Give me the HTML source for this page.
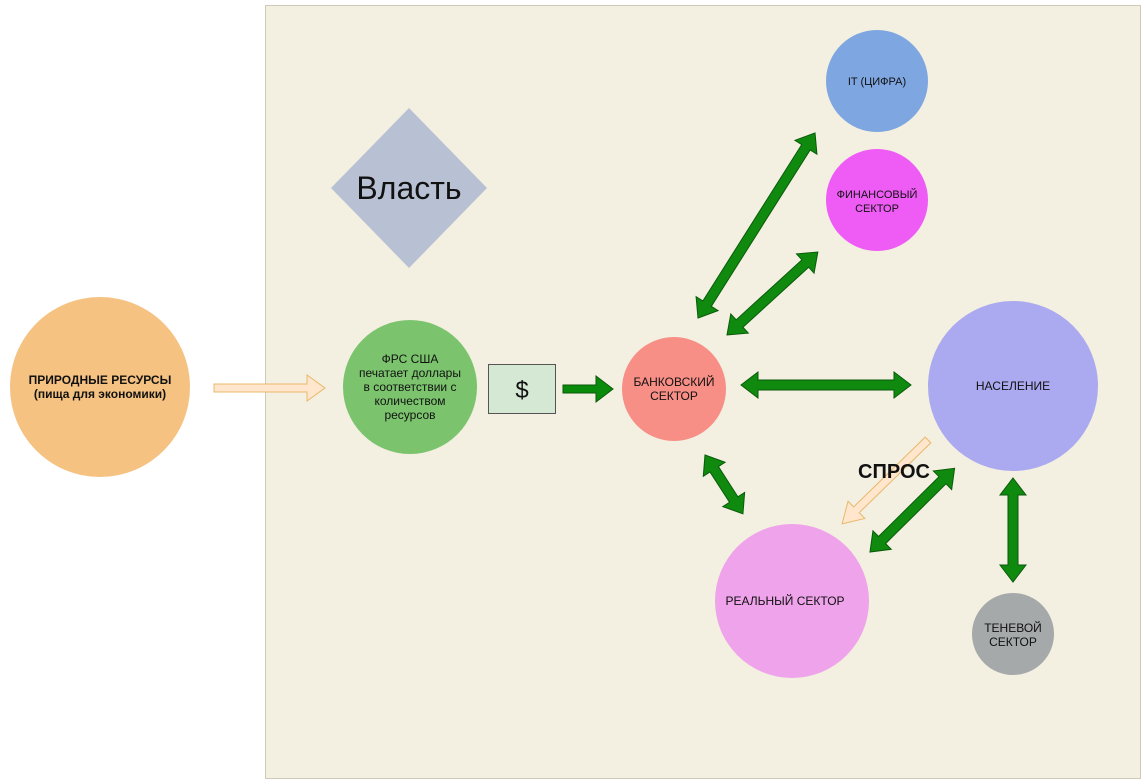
<!DOCTYPE html>
<html><head><meta charset="utf-8"><style>
body{margin:0;background:#fff;}
svg{display:block;font-family:"Liberation Sans",sans-serif;}
</style></head><body>
<svg width="1144" height="782" viewBox="0 0 1144 782">
<rect x="265.5" y="5.5" width="875" height="773" fill="#f3efe1" stroke="#cfcab8"/>
<!-- diamond -->
<polygon points="409,108 487,188 409,268 331,188" fill="#b8c1d3"/>
<text x="409" y="199" font-size="32" text-anchor="middle" fill="#111">Власть</text>
<!-- circles -->
<circle cx="100" cy="387" r="90" fill="#f5c282"/>
<text font-size="12" font-weight="bold" text-anchor="middle" fill="#111"><tspan x="100" y="384">ПРИРОДНЫЕ РЕСУРСЫ</tspan><tspan x="100" y="398">(пища для экономики)</tspan></text>
<circle cx="410" cy="387" r="67" fill="#7bc46d"/>
<text font-size="12" text-anchor="middle" fill="#111"><tspan x="410" y="363">ФРС США</tspan><tspan x="410" y="377">печатает доллары</tspan><tspan x="410" y="391">в соответствии с</tspan><tspan x="410" y="405">количеством</tspan><tspan x="410" y="419">ресурсов</tspan></text>
<rect x="488.5" y="364.5" width="67" height="49" fill="#d5e8d4" stroke="#555"/>
<text x="522" y="398" font-size="24" text-anchor="middle" fill="#111">$</text>
<circle cx="674" cy="389" r="52" fill="#f88f86"/>
<text font-size="12" text-anchor="middle" fill="#111"><tspan x="674" y="386">БАНКОВСКИЙ</tspan><tspan x="674" y="400">СЕКТОР</tspan></text>
<circle cx="877" cy="81" r="51" fill="#7ea6e0"/>
<text x="877" y="85" font-size="11" text-anchor="middle" fill="#111">IT (ЦИФРА)</text>
<circle cx="877" cy="200" r="51" fill="#ee5cf5"/>
<text font-size="11" text-anchor="middle" fill="#111"><tspan x="877" y="198">ФИНАНСОВЫЙ</tspan><tspan x="877" y="212">СЕКТОР</tspan></text>
<circle cx="1013" cy="386" r="85" fill="#aba9ef"/>
<text x="1013" y="390" font-size="12" text-anchor="middle" fill="#111">НАСЕЛЕНИЕ</text>
<circle cx="792" cy="601" r="77" fill="#eea3ea"/>
<text x="785" y="605" font-size="12" text-anchor="middle" fill="#111">РЕАЛЬНЫЙ СЕКТОР</text>
<circle cx="1013" cy="634" r="41" fill="#a5a9aa"/>
<text font-size="12" text-anchor="middle" fill="#111"><tspan x="1013" y="632">ТЕНЕВОЙ</tspan><tspan x="1013" y="646">СЕКТОР</tspan></text>
<!-- peach arrows -->
<polygon points="214,384 307,384 307,375 325,388 307,401 307,392 214,392" fill="#ffe6cc" stroke="#e8b86a"/>
<g transform="translate(928,440) rotate(135.7)">
<polygon points="0,-4 100,-4 100,-12 120,0 100,12 100,4 0,4" fill="#ffe6cc" stroke="#e8b86a"/>
</g>
<text x="894" y="478" font-size="20" font-weight="bold" text-anchor="middle" fill="#111">СПРОС</text>
<!-- green single -->
<polygon points="563,385 596,385 596,376 613,389 596,402 596,393 563,393" fill="#0a8a0a" stroke="#0a5a0a"/>
<!-- double arrows -->
<g fill="#0f8a0f" stroke="#0a5a0a" stroke-width="1">
<g transform="translate(698,318) rotate(-57.7)"><polygon points="0,0 17,-13 17,-5 202,-5 202,-13 219,0 202,13 202,5 17,5 17,13"/></g>
<g transform="translate(727,335) rotate(-42.4)"><polygon points="0,0 17,-13 17,-5 106,-5 106,-13 123,0 106,13 106,5 17,5 17,13"/></g>
<g transform="translate(741,385)"><polygon points="0,0 17,-13 17,-5 153,-5 153,-13 170,0 153,13 153,5 17,5 17,13"/></g>
<g transform="translate(705,455) rotate(57.2)"><polygon points="0,0 17,-13 17,-5 53,-5 53,-13 70,0 53,13 53,5 17,5 17,13"/></g>
<g transform="translate(870,552) rotate(-44.7)"><polygon points="0,0 17,-13 17,-5 102,-5 102,-13 119,0 102,13 102,5 17,5 17,13"/></g>
<g transform="translate(1013,478) rotate(90)"><polygon points="0,0 17,-13 17,-5 87,-5 87,-13 104,0 87,13 87,5 17,5 17,13"/></g>
</g>
</svg>
</body></html>
